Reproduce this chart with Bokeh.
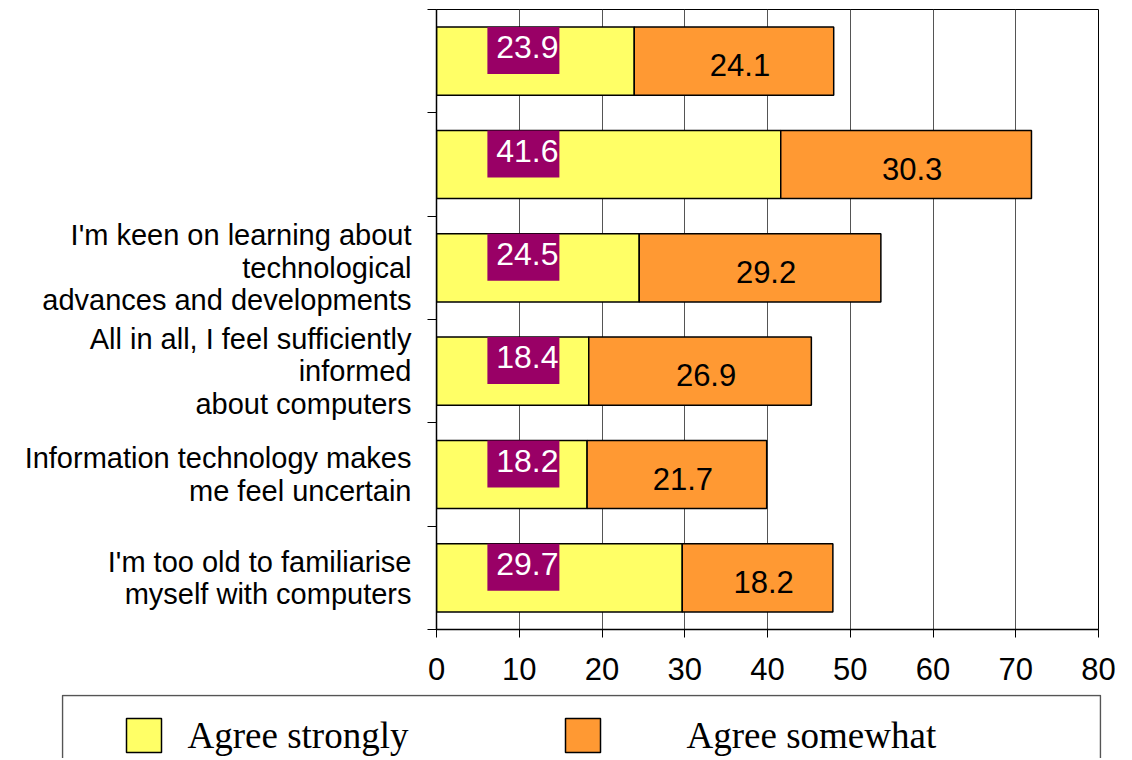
from bokeh.plotting import figure
from bokeh.models import Range1d, FixedTicker, ColumnDataSource
from bokeh.embed import file_html
from bokeh.resources import INLINE
from bokeh.core.properties import value

# ---------------- data ----------------
categories = [
    "I'm too old to familiarise\nmyself with computers",
    "Information technology makes\nme feel uncertain",
    "All in all, I feel sufficiently\ninformed\nabout computers",
    "I'm keen on learning about\ntechnological\nadvances and developments",
    "",
    "",
]
agree_strongly = [29.7, 18.2, 18.4, 24.5, 41.6, 23.9]
agree_somewhat = [18.2, 21.7, 26.9, 29.2, 30.3, 24.1]
series_names = ["Agree strongly", "Agree somewhat"]
series_colors = ["#FFFF66", "#FF9933"]
x_ticks = [0, 10, 20, 30, 40, 50, 60, 70, 80]

# ---------------- styling constants ----------------
FONT = "Liberation Sans"
SERIF = "Liberation Serif"
BAR_H = 0.66
LABEL_BOX_X = 10.5
LABEL_BOX_W = 8.7
LABEL_BOX_H = 0.455
PURPLE = "#990066"

n = len(categories)
ys = [i + 0.5 for i in range(n)]
ends = [a + b for a, b in zip(agree_strongly, agree_somewhat)]

src = ColumnDataSource(dict(
    y=ys,
    strong=agree_strongly,
    somewhat=agree_somewhat,
    end=ends,
    mid=[(a + e) / 2 for a, e in zip(agree_strongly, ends)],
    box_y=[y + BAR_H / 2 - LABEL_BOX_H / 2 for y in ys],
    text_y=[y + BAR_H / 2 - LABEL_BOX_H / 2 + 0.03 for y in ys],
    some_y=[y - 0.04 for y in ys],
    box_x=[LABEL_BOX_X] * n,
    strong_txt=["%.1f" % v for v in agree_strongly],
    some_txt=["%.1f" % v for v in agree_somewhat],
))

p = figure(width=1123, height=694, output_backend="svg", toolbar_location=None,
           x_range=Range1d(x_ticks[0], x_ticks[-1]), y_range=Range1d(0, n),
           min_border_left=436, min_border_right=25, min_border_top=9,
           min_border_bottom=65)
p.background_fill_color = "white"
p.border_fill_color = "white"
p.outline_line_color = "black"
p.outline_line_width = 1

# grid
p.ygrid.visible = False
p.xgrid.grid_line_color = "#555555"
p.xgrid.grid_line_width = 1
p.xgrid.ticker = FixedTicker(ticks=x_ticks)

# x axis
p.xaxis.ticker = FixedTicker(ticks=x_ticks, minor_ticks=[])
p.xaxis.axis_line_color = "black"
p.xaxis.axis_line_width = 1.5
p.xaxis.major_tick_line_color = "black"
p.xaxis.major_tick_out = 8
p.xaxis.major_tick_in = 0
p.xaxis.minor_tick_line_color = None
p.xaxis.major_label_text_font = FONT
p.xaxis.major_label_text_font_size = "31px"
p.xaxis.major_label_text_color = "black"
p.xaxis.major_label_standoff = 20

# y axis
p.yaxis.ticker = FixedTicker(ticks=ys, minor_ticks=list(range(n + 1)))
p.yaxis.major_label_overrides = {y: c for y, c in zip(ys, categories)}
p.yaxis.axis_line_color = "black"
p.yaxis.axis_line_width = 1.5
p.yaxis.major_tick_line_color = None
p.yaxis.major_tick_out = 0
p.yaxis.major_tick_in = 0
p.yaxis.minor_tick_line_color = "black"
p.yaxis.minor_tick_out = 9
p.yaxis.minor_tick_in = 0
p.yaxis.major_label_text_font = FONT
p.yaxis.major_label_text_font_size = "29px"
p.yaxis.major_label_text_color = "black"
p.yaxis.major_label_text_line_height = 1.02
p.yaxis.major_label_standoff = 16

# bars
p.hbar(y="y", left=0, right="strong", height=BAR_H, source=src,
       fill_color=series_colors[0], line_color="black", line_width=1.5)
p.hbar(y="y", left="strong", right="end", height=BAR_H, source=src,
       fill_color=series_colors[1], line_color="black", line_width=1.5)

# data labels
p.rect(x="box_x", y="box_y", width=LABEL_BOX_W, height=LABEL_BOX_H, source=src,
       fill_color=PURPLE, line_color=None)
p.text(x="box_x", y="text_y", text="strong_txt", source=src,
       text_font=value(FONT), text_font_size="32px", text_color="white",
       text_align="center", text_baseline="middle", x_offset=4)
p.text(x="mid", y="some_y", text="some_txt", source=src,
       text_font=value(FONT), text_font_size="31px", text_color="black",
       text_align="center", text_baseline="middle", x_offset=6)

# ---------------- legend panel ----------------
LW, LH = 1040, 64
lg = figure(width=1123, height=LH, output_backend="svg", toolbar_location=None,
            x_range=Range1d(0, LW), y_range=Range1d(LH, 0),
            x_axis_type=None, y_axis_type=None,
            min_border_left=61, min_border_right=22, min_border_top=0,
            min_border_bottom=0)
lg.outline_line_color = None
lg.grid.visible = False
lg.background_fill_color = "white"
lg.border_fill_color = "white"

# box (top, left, right borders; bottom is cut off by the page)
lg.multi_line(xs=[[1, 1, LW - 1, LW - 1]], ys=[[LH + 5, 1, 1, LH + 5]],
              line_color="#555555", line_width=1.5)

item_x = [65, 504]
text_x = [126, 625]
lsrc = ColumnDataSource(dict(
    left=item_x,
    right=[x + 35 for x in item_x],
    top=[24] * 2,
    bottom=[58] * 2,
    tx=text_x,
    ty=[41] * 2,
    color=series_colors,
    label=series_names,
))
lg.quad(left="left", right="right", top="top", bottom="bottom", source=lsrc,
        fill_color="color", line_color="black", line_width=1.5)
lg.text(x="tx", y="ty", text="label", source=lsrc, text_font=value(SERIF),
        text_font_size="37px", text_color="black", text_align="left",
        text_baseline="alphabetic")

open("out.html", "w").write(file_html([p, lg], INLINE))
